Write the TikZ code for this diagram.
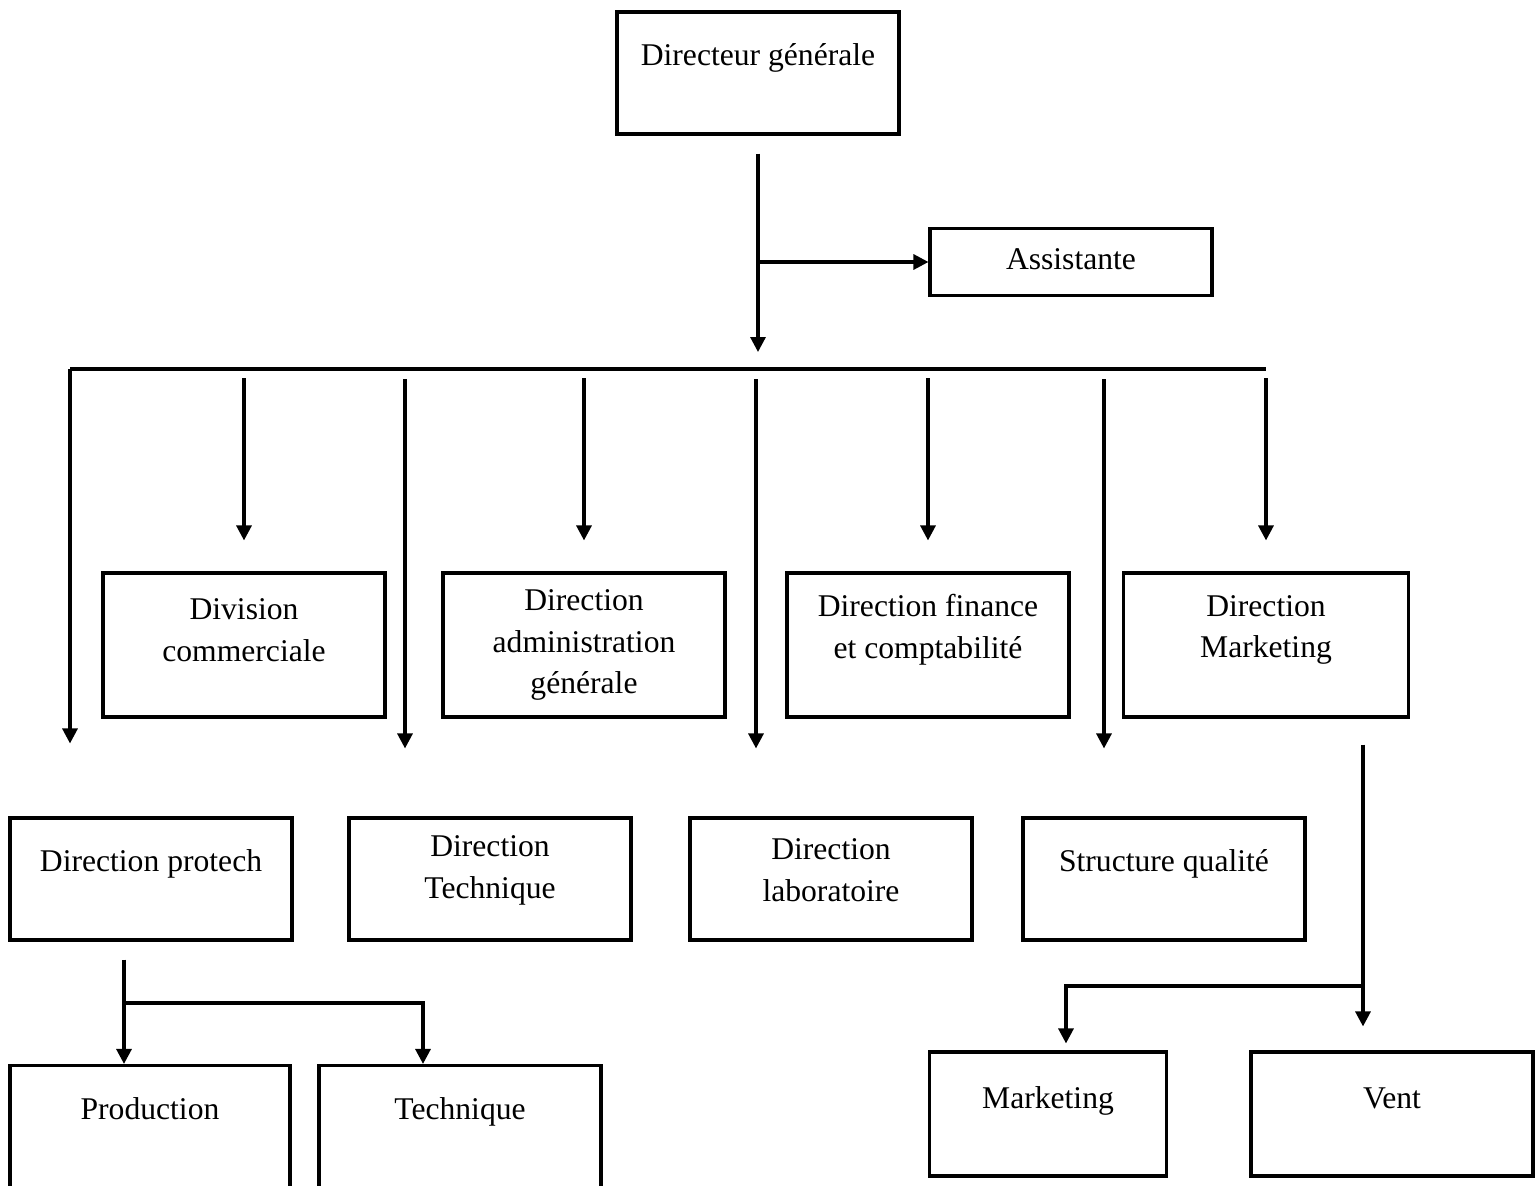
\documentclass[tikz,border=0pt]{standalone}
\usepackage{fontspec}
\setmainfont{Liberation Serif}
\usetikzlibrary{arrows.meta}
\begin{document}
\begin{tikzpicture}[x=0.02cm,y=-0.02cm,
    box/.style={draw,line width=1.8pt,minimum width=5.64cm},
    lbl/.style={align=center,font=\fontsize{18}{23.8}\selectfont},
    one/.style={text height=12pt,text depth=4pt},
    wire/.style={draw,line width=1.8pt},
    arr/.style={wire,-{Triangle[length=0.3cm,width=0.3cm]}}]
  \useasboundingbox (0,0) rectangle (1538,1186);
  % boxes
  \path
    (758,73) node[box,minimum height=2.44cm] (dg){}
    (1071,262) node[box,minimum height=1.34cm] (asst){}
    (244,645) node[box,minimum height=2.88cm] (divc){}
    (584,645) node[box,minimum height=2.88cm] (dadm){}
    (928,645) node[box,minimum height=2.88cm] (dfin){}
    (1266,645) node[box,minimum height=2.88cm,minimum width=5.7cm] (dmkt){}
    (151,879) node[box,minimum height=2.44cm] (dpro){}
    (490,879) node[box,minimum height=2.44cm] (dtech){}
    (831,879) node[box,minimum height=2.44cm] (dlab){}
    (1164,879) node[box,minimum height=2.44cm] (squal){}
    (150,1138) node[box,minimum height=2.9cm,minimum width=5.6cm] (prod){}
    (460,1138) node[box,minimum height=2.9cm] (tech){}
    (1048,1114) node[box,minimum height=2.48cm,minimum width=4.74cm] (mark){}
    (1392,1114) node[box,minimum height=2.48cm] (vent){};
  % texts
  \path[lbl]
    ([yshift=0.3cm]dg.center) node[one] (dgT){Directeur générale}
    (asst.center) node[one] (asstT){Assistante}
    ([yshift=0.3cm]divc.center) node (divcT){Division\\commerciale}
    (dadm.center) node (dadmT){Direction\\administration\\générale}
    ([yshift=0.3cm]dfin.center) node (dfinT){Direction finance\\et comptabilité}
    ([yshift=0.3cm]dmkt.center) node (dmktT){Direction\\Marketing}
    ([yshift=0.3cm]dpro.center) node[one] (dproT){Direction protech}
    ([yshift=0.18cm]dtech.center) node (dtechT){Direction\\Technique}
    ([yshift=0.18cm]dlab.center) node (dlabT){Direction\\laboratoire}
    ([yshift=0.3cm]squal.center) node[one] (squalT){Structure qualité}
    ([yshift=0.51cm]prod.center) node[one] (prodT){Production}
    ([yshift=0.51cm]tech.center) node[one] (techT){Technique}
    ([yshift=0.26cm]mark.center) node[one] (markT){Marketing}
    ([yshift=0.26cm]vent.center) node[one] (ventT){Vent};
  % connectors
  \coordinate (bus) at (758,369);
  \coordinate (d1) at (70,369);
  \coordinate (d2) at (405,369);
  \coordinate (d3) at (756,369);
  \coordinate (d4) at (1104,369);
  \coordinate (pj) at (124,1003);
  \coordinate (pk) at (423,1003);
  \coordinate (mj) at (1363,986);
  \coordinate (mk) at (1066,986);
  \path[arr,shorten <=0.36cm,shorten >=0.34cm] (dg) -- (bus);
  \path[arr] (dg.south |- asst.west) -- (asst.west);
  \path[wire] (d1) -- (bus -| dmkt);
  \foreach \b in {divc,dadm,dfin,dmkt}
    \path[arr,shorten <=0.18cm,shorten >=0.62cm] (bus -| \b) -- (\b.north);
  \path[arr,shorten >=1.46cm] (d1) -- (d1 |- dpro.north);
  \foreach \d in {d2,d3,d4}
    \path[arr,shorten <=0.2cm,shorten >=1.36cm] (\d) -- (\d |- dpro.north);
  \path[arr,shorten <=0.36cm] (pj |- dpro.south) -- (pj |- prod.north);
  \path[arr] (pj) -- (pk) -- (pk |- prod.north);
  \path[arr,shorten <=0.52cm,shorten >=0.48cm] (mj |- dmkt.south) -- (mj |- vent.north);
  \path[arr,shorten >=0.14cm] (mj) -- (mk) -- (mk |- mark.north);
\end{tikzpicture}
\end{document}
